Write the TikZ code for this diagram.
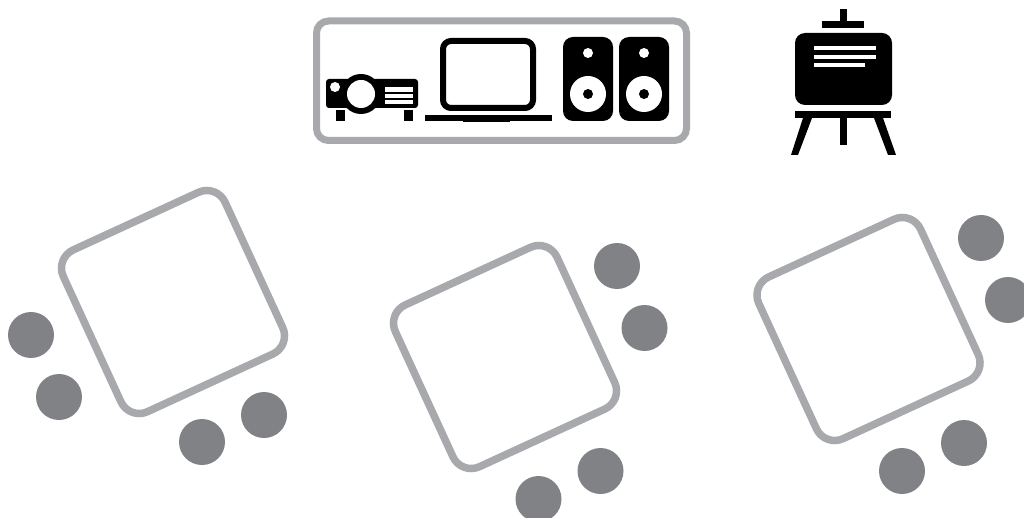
\documentclass[tikz,border=0pt]{standalone}
\usepackage{xcolor}
\definecolor{framegray}{HTML}{A7A9AC}
\definecolor{seatgray}{HTML}{808285}
\tikzset{
  tablebox/.style={draw=framegray, line width=7.5pt, rounded corners=20pt, minimum size=178pt, rotate=24.7},
  seat/.style={circle, fill=seatgray, minimum size=46pt, inner sep=0pt},
}

\begin{document}
\begin{tikzpicture}[x=1pt, y=-1pt]
      % one unit = one pixel of the reference
      \useasboundingbox (0,0) rectangle (1024,518);
      % tables
      \node[tablebox] (tableA) at (173,302) {};
      \node[tablebox] (tableB) at (505,357) {};
      \node[tablebox] (tableC) at (868.5,329) {};
      % seats
      \node[seat] (seatAa) at (31,335)  {};
      \node[seat] (seatAb) at (59,397)  {};
      \node[seat] (seatAc) at (202,442) {};
      \node[seat] (seatAd) at (264,415) {};
      \node[seat] (seatBa) at (617,266) {};
      \node[seat] (seatBb) at (644.5,328) {};
      \node[seat] (seatBc) at (600.5,471) {};
      \node[seat] (seatBd) at (538.5,499) {};
      \node[seat] (seatCa) at (981,238) {};
      \node[seat] (seatCb) at (1008,300) {};
      \node[seat] (seatCc) at (964,443) {};
      \node[seat] (seatCd) at (902,471) {};
      % media frame
      \draw[draw=framegray, line width=7pt, rounded corners=12pt] (316.5,21) rectangle (686.5,140.5);
      % projector
      \fill[black, rounded corners=3pt] (326,79) rectangle (418,108);
      \fill[black] (361,94) circle (20);
      \fill[white] (361,94) circle (14);
      \fill[white] (335,87) circle (5);
      \fill[white] (385,87) rectangle (413,92);
      \fill[white] (385,94) rectangle (413,98);
      \fill[white] (385,100) rectangle (413,104);
      \fill[black] (336,110) rectangle (345,121);
      \fill[black] (404,110) rectangle (413,121);
      % monitor
      \draw[black, line width=6pt, rounded corners=8pt] (443,41) rectangle (533,108);
      \fill[black] (425,115) rectangle (552,121);
      \fill[black] (463,118) rectangle (510,122);
      % speakers
      \fill[black, rounded corners=10pt] (563,37) rectangle (613,121);
      \fill[white] (588,53) circle (5);
      \fill[white] (588,94) circle (18);
      \fill[black] (588,94) circle (5);
      \fill[black, rounded corners=10pt] (619,37) rectangle (669,121);
      \fill[white] (644,53) circle (5);
      \fill[white] (644,94) circle (18);
      \fill[black] (644,94) circle (5);
      % easel
      \fill[black] (840,9) rectangle (847,22);
      \fill[black] (822,21) rectangle (864,28);
      \fill[black, rounded corners=10pt] (795,33) rectangle (892,105);
      \fill[white] (814,46) rectangle (876,50);
      \fill[white] (814,55) rectangle (876,59);
      \fill[white] (814,63) rectangle (865,67);
      \fill[black] (795,111) rectangle (891,118);
      \fill[black] (840,118) rectangle (847,145);
      \fill[black] (803,118) -- (812,118) -- (798,155) -- (791,155) -- cycle;
      \fill[black] (874,118) -- (883,118) -- (896,155) -- (888,155) -- cycle;
    \end{tikzpicture}
\end{document}
